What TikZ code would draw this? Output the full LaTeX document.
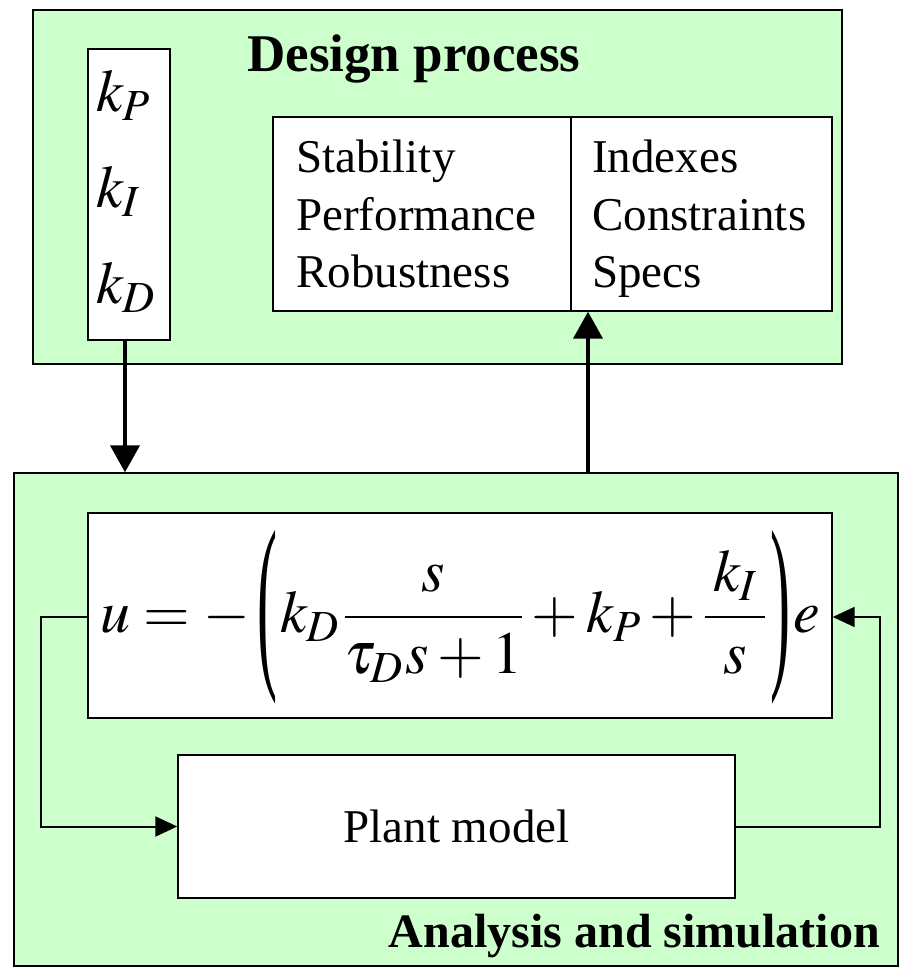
\documentclass[tikz,border=0pt]{standalone}
\usepackage{mathptmx}
\usepackage[no-math]{fontspec}
\setmainfont{Liberation Serif}
\usetikzlibrary{arrows.meta}
\definecolor{pale}{HTML}{CCFFCC}
\newcommand{\tallparen}[1]{\mathopen{\kern3pt\vcenter{\hbox{\resizebox*{20pt}{174pt}{#1}}}\kern3pt}}
\newcommand{\tallclose}[1]{\mathclose{\kern3pt\vcenter{\hbox{\resizebox*{20pt}{174pt}{#1}}}\kern3pt}}
\begin{document}
\begin{tikzpicture}[x=1pt,y=-1pt,
  panel/.style={draw=black, line width=1.4pt, fill=pale, inner sep=0pt},
  wbox/.style={draw=black, line width=1.4pt, fill=white, inner sep=0pt},
  bigarrow/.style={line width=4pt, -{Triangle[length=27pt,width=29pt]}},
  looparrow/.style={line width=2pt, -{Triangle[length=22pt,width=20pt]}},
  txt/.style={font=\fontsize{47}{57}\selectfont, inner sep=0pt, anchor=base west},
  ttl/.style={font=\fontsize{53}{60}\selectfont\bfseries, inner sep=0pt, anchor=base west},
  gain/.style={font=\fontsize{60}{60}\selectfont, inner sep=0pt, anchor=base west}]
\useasboundingbox (0,0) rectangle (903,976);
% panels
\node[panel, minimum width=809pt, minimum height=354pt] (top) at (437.5,187) {};
\node[panel, minimum width=884pt, minimum height=493pt] (bot) at (456,719.5) {};
% design process content
\node[ttl] (dp) at (247,72) {Design process};
\node[wbox, minimum width=82pt, minimum height=291pt] (kp) at (129,194.5) {};
\node[gain] (k1) at (96,112) {$k_P$};
\node[gain] (k2) at (96,208) {$k_I$};
\node[gain] (k3) at (96,303) {$k_D$};
\node[wbox, minimum width=298pt, minimum height=194pt] (stab) at (422,214) {};
\node[wbox, minimum width=261pt, minimum height=194pt] (idx) at (701.5,214) {};
\node[txt] (s1) at (296,173) {Stability};
\node[txt] (s2) at (296,230) {Performance};
\node[txt] (s3) at (296,287) {Robustness};
\node[txt] (i1) at (592,173) {Indexes};
\node[txt] (i2) at (592,230) {Constraints};
\node[txt] (i3) at (592,287) {Specs};
% analysis content
\node[wbox, minimum width=744pt, minimum height=205pt] (f) at (460,615.5) {};
\node[font=\fontsize{60}{60}\selectfont, inner sep=0pt, anchor=base west] (fx) at (100,632)
  {$\displaystyle u={-}\kern4pt\tallparen{(}k_D\kern4pt\frac{\kern3pt s\kern3pt}{\tau_D\kern2pt s+1}+k_P+\frac{\kern8pt k_I\kern8pt}{s}\kern1pt\tallclose{)}e$};
\node[wbox, minimum width=557pt, minimum height=143pt, font=\fontsize{47}{57}\selectfont] (plant) at (456.5,826.5) {Plant model};
\node[font=\fontsize{48}{57}\selectfont\bfseries, inner sep=0pt, anchor=base east] (an) at (880,947) {Analysis and simulation};
% connectors
\coordinate (dx) at (125,0);
\coordinate (ux) at (588,0);
\draw[bigarrow] (kp.south -| dx) -- (bot.north -| dx);
\draw[bigarrow] (bot.north -| ux) -- (idx.south -| ux);
\coordinate (lx) at (41,0);
\coordinate (rx) at (880,0);
\coordinate (ly) at (0,617);
\draw[looparrow] (f.west |- ly) -- (lx |- ly) -- (plant.west -| lx) -- (plant.west);
\draw[looparrow] (plant.east) -- (plant.east -| rx) -- (rx |- ly) -- (f.east |- ly);
\end{tikzpicture}
\end{document}
